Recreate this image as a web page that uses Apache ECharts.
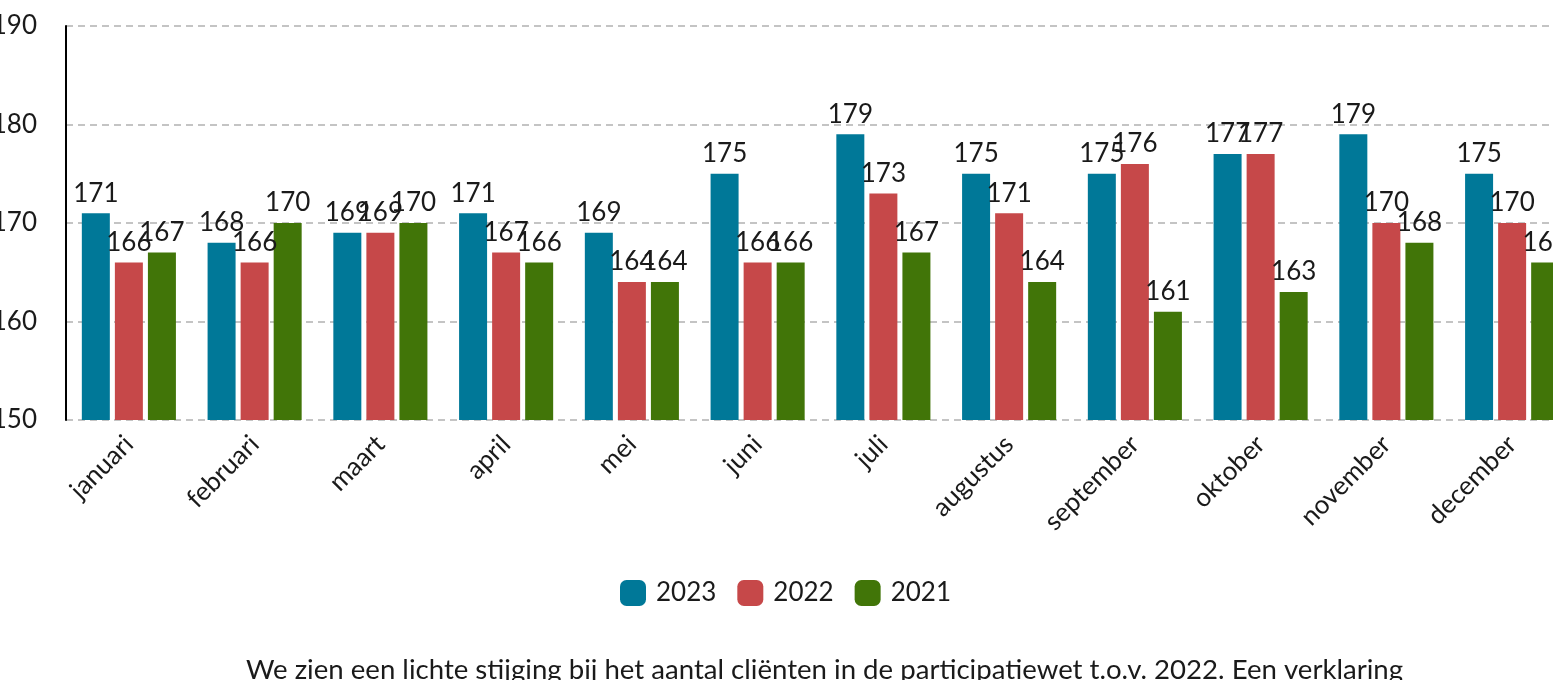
<!DOCTYPE html>
<html><head><meta charset="utf-8">
<script src="https://cdn.jsdelivr.net/npm/echarts@6/dist/echarts.min.js"></script>
<style>html,body{margin:0;padding:0;background:#fff;}#c{width:1553px;height:680px;}</style>
</head><body><div id="c"></div>
<script>
const months = ['januari','februari','maart','april','mei','juni','juli','augustus','september','oktober','november','december'];
const s2023 = [171,168,169,171,169,175,179,175,175,177,179,175];
const s2022 = [166,166,169,167,164,166,173,171,176,177,170,170];
const s2021 = [167,170,170,166,164,166,167,164,161,163,168,166];
const yTicks = {min:150, max:190, interval:10};
const seriesNames = ['2023','2022','2021'];
const colors = ['#007898','#c64849','#417508'];
const font = 'Lato, "Noto Sans", sans-serif';
const chart = echarts.init(document.getElementById('c'));
function mk(name, data, color){
  return {name, type:'bar', data, barWidth:28, barGap:'18%',
    itemStyle:{color},
    label:{show:true, position:'top', distance:7, color:'#1a1a1a', fontSize:26, fontFamily:font}};
}
chart.setOption({
  animation:false,
  textStyle:{fontFamily:font},
  title:{text:'We zien een lichte stijging bij het aantal cliënten in de participatiewet t.o.v. 2022. Een verklaring',
    left:246, top:656, padding:0, textStyle:{fontSize:27.6, fontWeight:'normal', color:'#1a1a1a', fontFamily:font}},
  legend:{data:seriesNames, left:615, top:575, itemWidth:26, itemHeight:26, itemGap:21,
    icon:'roundRect', textStyle:{fontSize:26, color:'#1a1a1a', fontFamily:font, padding:[0,0,0,5]}},
  grid:{left:66, right:-22, top:26, height:394, containLabel:false, outerBoundsMode:'none'},
  xAxis:{type:'category', data:months,
    axisLine:{show:false}, axisTick:{show:false},
    axisLabel:{rotate:45, fontSize:26, color:'#1a1a1a', margin:20, fontFamily:font, interval:0}},
  yAxis:{type:'value', min:yTicks.min, max:yTicks.max, interval:yTicks.interval,
    axisLine:{show:true, lineStyle:{color:'#000', width:2}},
    axisLabel:{fontSize:26, color:'#1a1a1a', margin:29, fontFamily:font},
    splitLine:{lineStyle:{color:'#c4c4c4', width:2, type:[7,5]}}},
  series:[mk(seriesNames[0], s2023, colors[0]), mk(seriesNames[1], s2022, colors[1]), mk(seriesNames[2], s2021, colors[2])]
});
</script></body></html>
